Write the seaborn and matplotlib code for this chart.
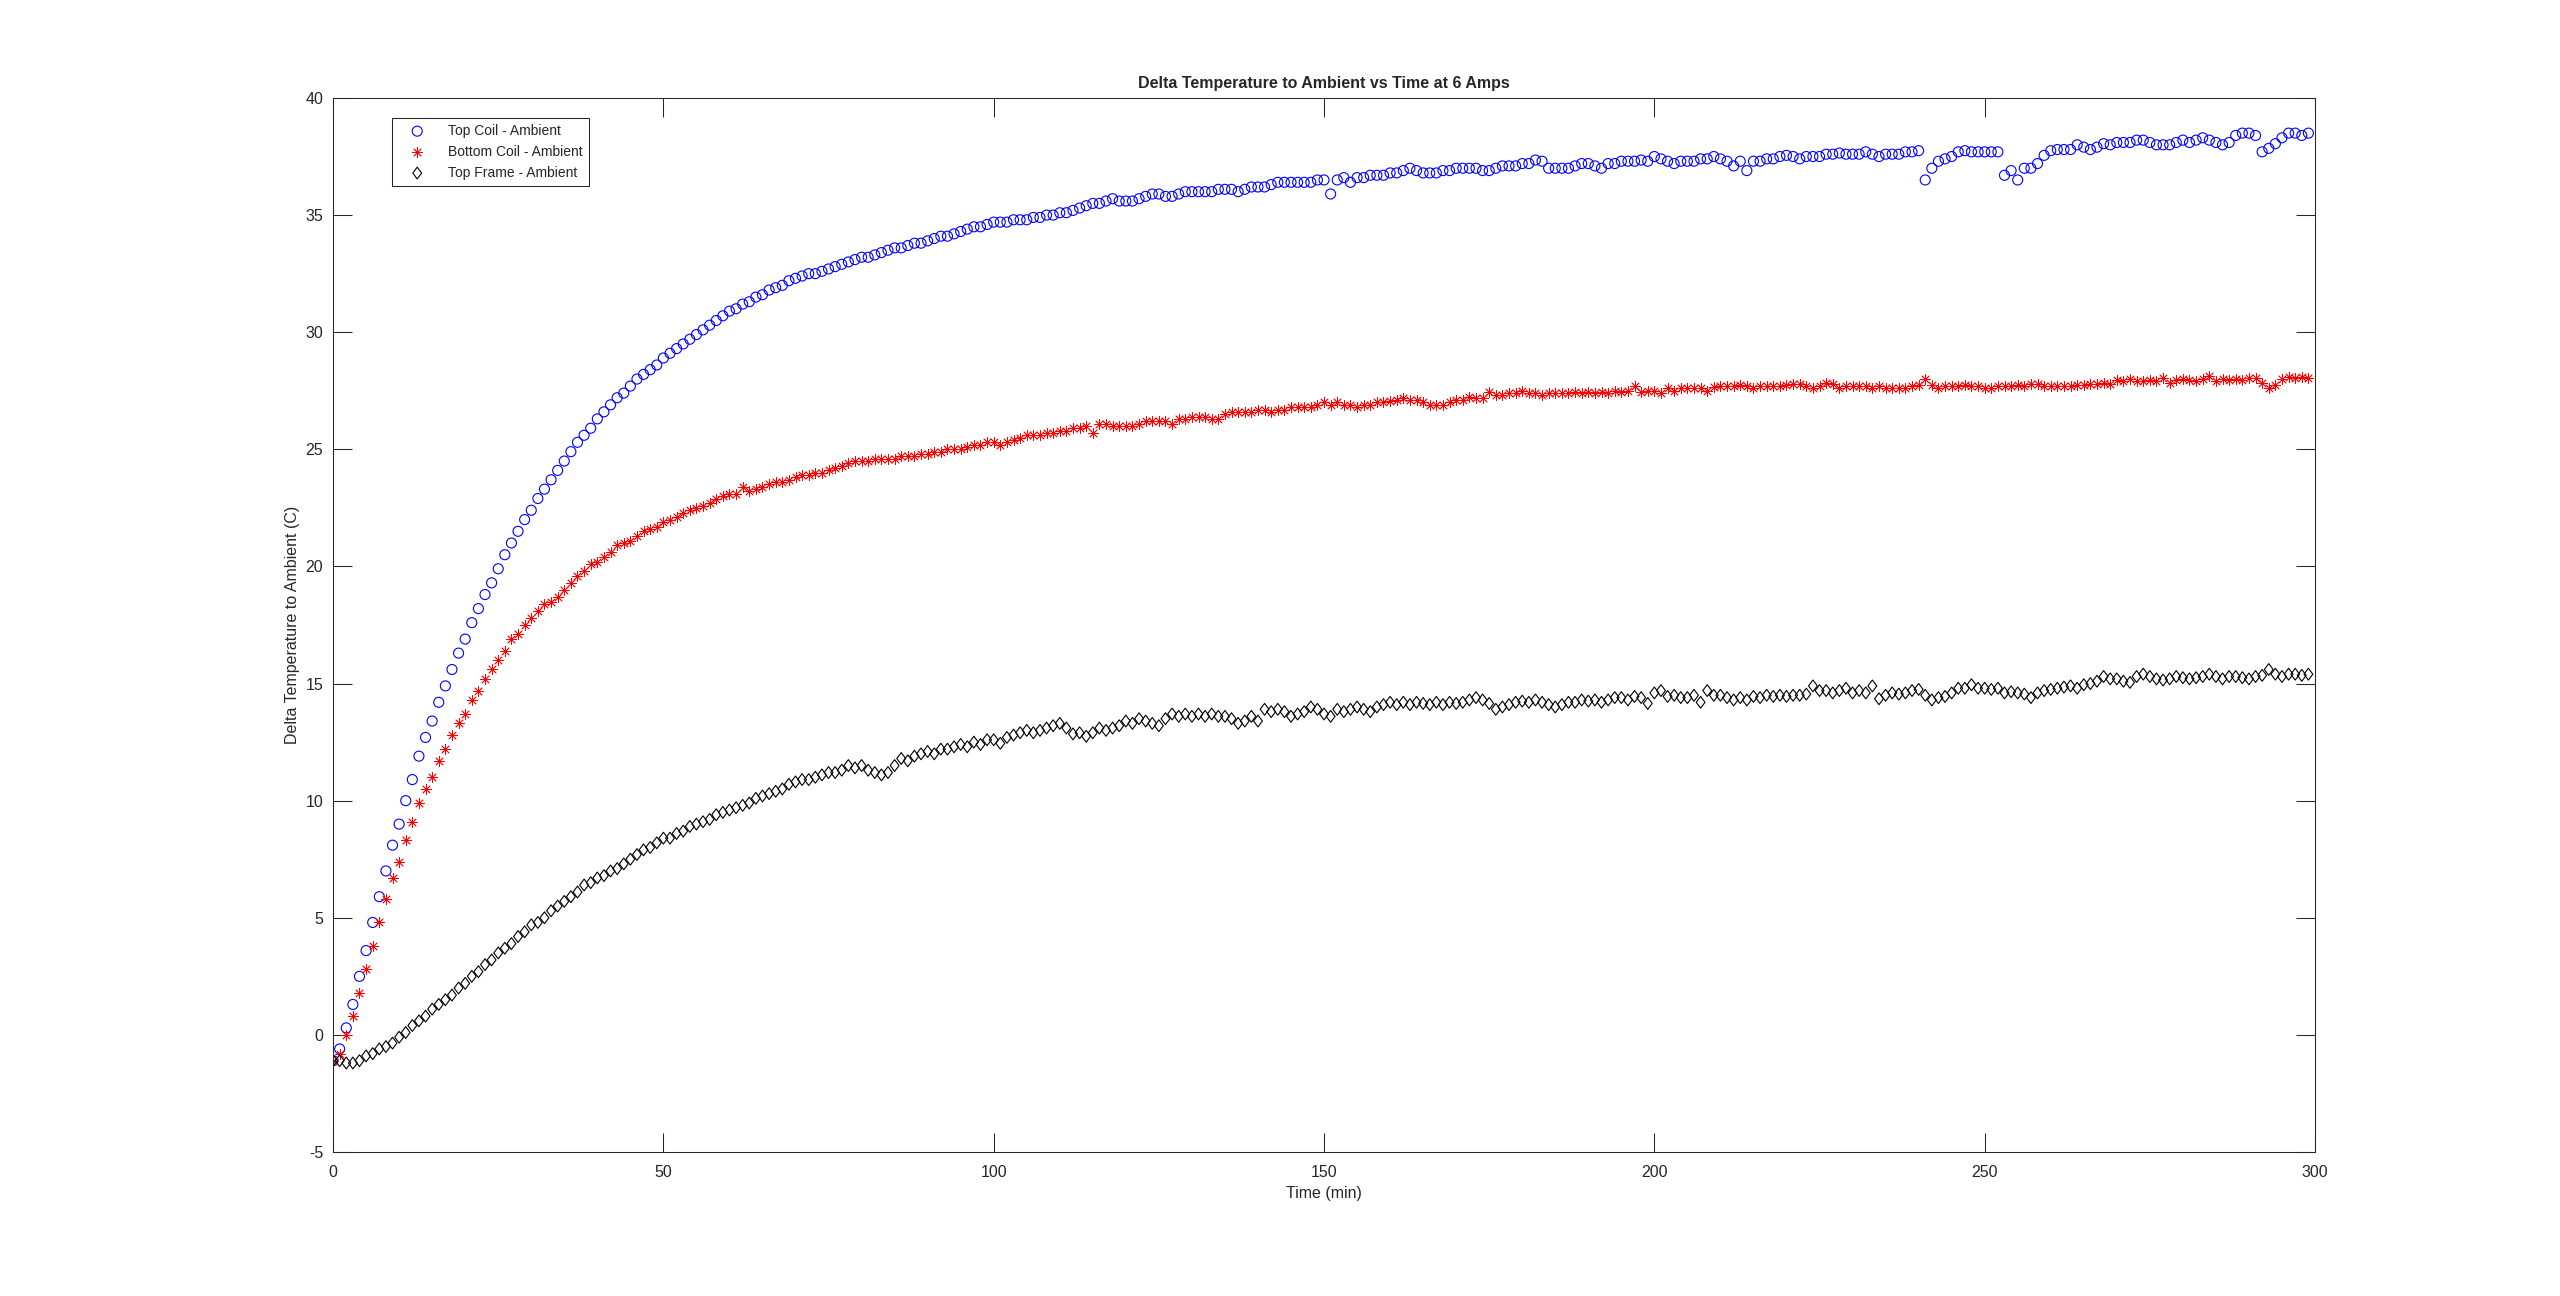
import numpy as np
import matplotlib
matplotlib.use("Agg")
import matplotlib.pyplot as plt
from matplotlib.path import Path
import seaborn as sns

# minutes 0..299, one reading per minute
time_min = np.arange(300)

top_coil = [
    -1.1, -0.6, 0.3, 1.3, 2.5, 3.6, 4.8, 5.9, 7.0, 8.1, 9.0, 10.0, 10.9, 11.9, 12.7, 13.4, 14.2, 14.9, 15.6, 16.3,
    16.9, 17.6, 18.2, 18.8, 19.3, 19.9, 20.5, 21.0, 21.5, 22.0, 22.4, 22.9, 23.3, 23.7, 24.1, 24.5, 24.9, 25.3, 25.6, 25.9,
    26.3, 26.6, 26.9, 27.2, 27.4, 27.7, 28.0, 28.2, 28.4, 28.6, 28.9, 29.1, 29.3, 29.5, 29.7, 29.9, 30.1, 30.3, 30.5, 30.7,
    30.9, 31.0, 31.2, 31.3, 31.5, 31.6, 31.8, 31.9, 32.0, 32.2, 32.3, 32.4, 32.5, 32.5, 32.6, 32.7, 32.8, 32.9, 33.0, 33.1,
    33.2, 33.2, 33.3, 33.4, 33.5, 33.6, 33.6, 33.7, 33.8, 33.8, 33.9, 34.0, 34.1, 34.1, 34.2, 34.3, 34.4, 34.5, 34.5, 34.6,
    34.7, 34.7, 34.7, 34.8, 34.8, 34.8, 34.9, 34.9, 35.0, 35.0, 35.1, 35.1, 35.2, 35.3, 35.4, 35.5, 35.5, 35.6, 35.7, 35.6,
    35.6, 35.6, 35.7, 35.8, 35.9, 35.9, 35.8, 35.8, 35.9, 36.0, 36.0, 36.0, 36.0, 36.0, 36.1, 36.1, 36.1, 36.0, 36.1, 36.2,
    36.2, 36.2, 36.3, 36.4, 36.4, 36.4, 36.4, 36.4, 36.4, 36.5, 36.5, 35.9, 36.5, 36.6, 36.4, 36.6, 36.6, 36.7, 36.7, 36.7,
    36.8, 36.8, 36.9, 37.0, 36.9, 36.8, 36.8, 36.8, 36.9, 36.9, 37.0, 37.0, 37.0, 37.0, 36.9, 36.9, 37.0, 37.1, 37.1, 37.1,
    37.2, 37.2, 37.35, 37.3, 37.0, 37.0, 37.0, 37.0, 37.1, 37.2, 37.2, 37.1, 37.0, 37.2, 37.2, 37.3, 37.3, 37.3, 37.35, 37.3,
    37.5, 37.4, 37.3, 37.2, 37.3, 37.3, 37.3, 37.4, 37.4, 37.5, 37.4, 37.3, 37.1, 37.3, 36.9, 37.3, 37.3, 37.4, 37.4, 37.5,
    37.55, 37.5, 37.4, 37.5, 37.5, 37.5, 37.6, 37.6, 37.65, 37.6, 37.6, 37.6, 37.7, 37.6, 37.5, 37.6, 37.6, 37.6, 37.7, 37.7,
    37.75, 36.5, 37.0, 37.3, 37.4, 37.5, 37.7, 37.75, 37.7, 37.7, 37.7, 37.7, 37.7, 36.7, 36.9, 36.5, 37.0, 37.0, 37.2, 37.55,
    37.75, 37.8, 37.8, 37.8, 38.0, 37.9, 37.8, 37.9, 38.05, 38.0, 38.1, 38.1, 38.1, 38.2, 38.2, 38.1, 38.0, 38.0, 38.0, 38.1,
    38.2, 38.1, 38.2, 38.3, 38.2, 38.1, 38.0, 38.1, 38.4, 38.5, 38.5, 38.4, 37.7, 37.85, 38.05, 38.3, 38.5, 38.5, 38.4, 38.5,
]

bottom_coil = [
    -1.1, -0.8, 0.0, 0.8, 1.8, 2.8, 3.8, 4.8, 5.8, 6.7, 7.4, 8.3, 9.1, 9.9, 10.5, 11.0, 11.7, 12.2, 12.8, 13.3,
    13.7, 14.3, 14.7, 15.2, 15.6, 16.0, 16.4, 16.9, 17.1, 17.5, 17.8, 18.1, 18.4, 18.5, 18.7, 19.0, 19.3, 19.6, 19.8, 20.1,
    20.2, 20.4, 20.6, 20.9, 21.0, 21.1, 21.3, 21.5, 21.6, 21.7, 21.9, 22.0, 22.1, 22.3, 22.4, 22.5, 22.6, 22.7, 22.9, 23.0,
    23.1, 23.1, 23.4, 23.2, 23.3, 23.4, 23.5, 23.6, 23.6, 23.7, 23.8, 23.9, 23.9, 24.0, 24.0, 24.1, 24.2, 24.3, 24.4, 24.5,
    24.5, 24.5, 24.6, 24.6, 24.6, 24.6, 24.7, 24.7, 24.7, 24.8, 24.8, 24.9, 24.9, 25.0, 25.0, 25.0, 25.1, 25.2, 25.2, 25.3,
    25.3, 25.2, 25.3, 25.4, 25.5, 25.6, 25.6, 25.6, 25.7, 25.7, 25.8, 25.8, 25.9, 25.9, 26.0, 25.7, 26.1, 26.1, 26.0, 26.0,
    26.0, 26.0, 26.1, 26.2, 26.2, 26.2, 26.2, 26.1, 26.3, 26.3, 26.4, 26.4, 26.4, 26.3, 26.3, 26.5, 26.6, 26.6, 26.6, 26.6,
    26.7, 26.7, 26.6, 26.7, 26.7, 26.8, 26.8, 26.8, 26.8, 26.9, 27.0, 26.9, 27.0, 26.9, 26.9, 26.8, 26.9, 26.9, 27.0, 27.0,
    27.05, 27.1, 27.2, 27.1, 27.1, 27.0, 26.9, 26.9, 26.9, 27.0, 27.1, 27.1, 27.25, 27.2, 27.2, 27.45, 27.3, 27.3, 27.4, 27.4,
    27.5, 27.4, 27.4, 27.3, 27.4, 27.4, 27.4, 27.4, 27.45, 27.4, 27.45, 27.4, 27.45, 27.4, 27.5, 27.45, 27.5, 27.7, 27.45, 27.5,
    27.5, 27.4, 27.6, 27.5, 27.6, 27.6, 27.6, 27.6, 27.5, 27.65, 27.7, 27.7, 27.7, 27.75, 27.7, 27.6, 27.7, 27.7, 27.7, 27.7,
    27.75, 27.8, 27.8, 27.7, 27.6, 27.7, 27.85, 27.8, 27.6, 27.7, 27.7, 27.7, 27.7, 27.6, 27.7, 27.6, 27.6, 27.6, 27.6, 27.7,
    27.75, 28.0, 27.75, 27.6, 27.7, 27.7, 27.7, 27.75, 27.7, 27.7, 27.6, 27.6, 27.7, 27.7, 27.7, 27.75, 27.7, 27.8, 27.8, 27.7,
    27.7, 27.7, 27.7, 27.7, 27.75, 27.75, 27.8, 27.8, 27.85, 27.8, 27.95, 27.9, 28.0, 27.9, 27.9, 27.95, 27.9, 28.05, 27.85, 27.95,
    28.0, 27.95, 27.9, 28.0, 28.15, 27.9, 28.0, 27.95, 28.0, 27.95, 28.05, 28.05, 27.85, 27.6, 27.75, 28.0, 28.1, 28.05, 28.1, 28.05,
]

top_frame = [
    -1.1, -1.1, -1.2, -1.2, -1.1, -0.9, -0.8, -0.6, -0.5, -0.35, -0.1, 0.1, 0.4, 0.6, 0.8, 1.1, 1.3, 1.5, 1.7, 2.0,
    2.2, 2.5, 2.7, 3.0, 3.2, 3.5, 3.7, 3.9, 4.2, 4.4, 4.7, 4.8, 5.0, 5.3, 5.5, 5.7, 5.9, 6.1, 6.4, 6.5,
    6.7, 6.8, 7.0, 7.1, 7.3, 7.5, 7.7, 7.9, 8.0, 8.2, 8.4, 8.4, 8.6, 8.7, 8.9, 9.0, 9.1, 9.2, 9.4, 9.5,
    9.6, 9.7, 9.8, 9.9, 10.1, 10.2, 10.3, 10.4, 10.5, 10.7, 10.8, 10.9, 10.9, 11.0, 11.1, 11.2, 11.2, 11.3, 11.5, 11.4,
    11.5, 11.3, 11.2, 11.1, 11.2, 11.5, 11.8, 11.7, 11.9, 12.0, 12.1, 12.0, 12.2, 12.2, 12.3, 12.4, 12.3, 12.5, 12.4, 12.6,
    12.6, 12.45, 12.7, 12.8, 12.9, 13.0, 12.9, 13.0, 13.1, 13.2, 13.3, 13.1, 12.85, 12.9, 12.75, 12.9, 13.1, 13.0, 13.1, 13.2,
    13.4, 13.3, 13.5, 13.4, 13.3, 13.2, 13.5, 13.7, 13.6, 13.7, 13.6, 13.7, 13.6, 13.7, 13.6, 13.6, 13.5, 13.3, 13.4, 13.6,
    13.4, 13.9, 13.8, 13.9, 13.8, 13.6, 13.7, 13.8, 14.0, 13.9, 13.7, 13.6, 13.9, 13.8, 13.9, 14.0, 13.9, 13.8, 14.0, 14.1,
    14.2, 14.1, 14.2, 14.1, 14.2, 14.15, 14.1, 14.2, 14.1, 14.2, 14.15, 14.2, 14.3, 14.4, 14.3, 14.15, 13.9, 14.0, 14.1, 14.2,
    14.25, 14.2, 14.3, 14.2, 14.1, 14.0, 14.1, 14.2, 14.2, 14.3, 14.25, 14.3, 14.2, 14.3, 14.4, 14.4, 14.3, 14.45, 14.4, 14.15,
    14.6, 14.7, 14.45, 14.5, 14.4, 14.4, 14.5, 14.2, 14.7, 14.5, 14.5, 14.4, 14.3, 14.4, 14.3, 14.45, 14.4, 14.5, 14.45, 14.5,
    14.45, 14.5, 14.5, 14.55, 14.9, 14.7, 14.7, 14.6, 14.7, 14.8, 14.6, 14.7, 14.6, 14.9, 14.35, 14.5, 14.6, 14.55, 14.6, 14.7,
    14.75, 14.5, 14.3, 14.4, 14.45, 14.6, 14.8, 14.8, 14.95, 14.8, 14.8, 14.75, 14.8, 14.6, 14.65, 14.6, 14.55, 14.4, 14.6, 14.7,
    14.75, 14.8, 14.85, 14.9, 14.8, 14.95, 15.0, 15.1, 15.3, 15.2, 15.2, 15.1, 15.05, 15.3, 15.4, 15.3, 15.2, 15.15, 15.2, 15.3,
    15.25, 15.2, 15.25, 15.3, 15.4, 15.3, 15.2, 15.3, 15.3, 15.25, 15.2, 15.3, 15.35, 15.6, 15.4, 15.3, 15.4, 15.4, 15.35, 15.4,
]

labels = ["Top Coil - Ambient", "Bottom Coil - Ambient", "Top Frame - Ambient"]
x_ticks = [0, 50, 100, 150, 200, 250, 300]
y_ticks = [-5, 0, 5, 10, 15, 20, 25, 30, 35, 40]

sns.set_style("ticks")
plt.rcParams["font.family"] = ["Liberation Sans", "DejaVu Sans"]
plt.rcParams["axes.unicode_minus"] = False
dark = "#262626"

fig = plt.figure(figsize=(25.6, 12.96), dpi=100)
ax = fig.add_axes([0.1301, 0.1111, 0.7742, 0.8133])

# MATLAB style markers
diamond = Path([(0, 1), (0.75, 0), (0, -1), (-0.75, 0), (0, 1)],
               [Path.MOVETO, Path.LINETO, Path.LINETO, Path.LINETO, Path.CLOSEPOLY])
asterisk = (8, 2, 0)

sns.scatterplot(x=time_min, y=top_coil, marker="o", s=52, color="blue",
                facecolor="none", edgecolor="blue", linewidth=0.8, ax=ax, label=labels[0])
sns.scatterplot(x=time_min, y=bottom_coil, marker=asterisk, s=50, color="red",
                linewidth=0.6, ax=ax, label=labels[1])
sns.scatterplot(x=time_min, y=top_frame, marker=diamond, s=72, color="black",
                facecolor="none", edgecolor="black", linewidth=0.8, ax=ax, label=labels[2])

ax.set_xlim(0, 300)
ax.set_ylim(-5, 40)
ax.set_xticks(x_ticks)
ax.set_yticks(y_ticks)
ax.tick_params(direction="in", length=14, width=0.75, color=dark, labelcolor=dark,
               labelsize=11.5, top=True, right=True)
ax.tick_params(axis="x", pad=9)
ax.tick_params(axis="y", pad=7)
for sp in ax.spines.values():
    sp.set_visible(True)
    sp.set_color(dark)
    sp.set_linewidth(0.75)

ax.set_title("Delta Temperature to Ambient vs Time at 6 Amps", fontsize=11.5,
             fontweight="bold", pad=7)
ax.set_xlabel("Time (min)", fontsize=11.5, color=dark, labelpad=5)
ax.set_ylabel("Delta Temperature to Ambient (C)", fontsize=11.5, color=dark, labelpad=4)

leg = ax.legend(loc="upper left", bbox_to_anchor=(0.026, 0.988), fontsize=10,
                fancybox=False, framealpha=1, edgecolor=dark, borderpad=0.45,
                handlelength=2.8, handletextpad=0.8, labelspacing=0.5, scatterpoints=1)
leg.get_frame().set_linewidth(0.75)

fig.savefig("out.png", dpi=100, facecolor="white")
